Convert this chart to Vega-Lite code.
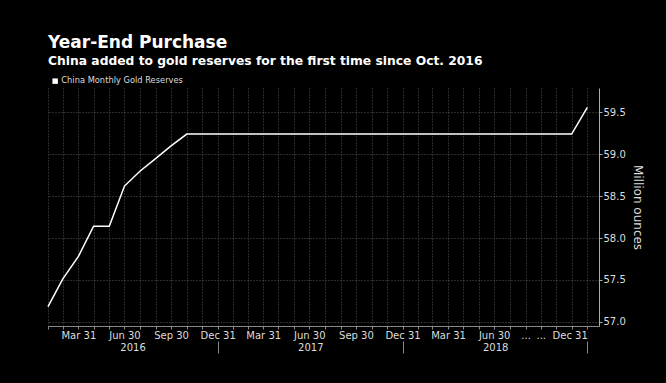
{
  "$schema": "https://vega.github.io/schema/vega-lite/v6.json",
  "width": 551,
  "height": 238,
  "autosize": {"type": "none"},
  "padding": {"left": 48, "top": 88, "right": 67, "bottom": 57},
  "background": "#000000",
  "config": {
    "font": "DejaVu Sans",
    "view": {"stroke": null},
    "title": {"color": "#ffffff", "subtitleColor": "#ffffff", "fontSize": 17, "fontWeight": "bold", "subtitleFontSize": 12.3, "subtitleFontWeight": "bold", "subtitlePadding": 3, "anchor": "start", "frame": "group"}
  },
  "title": {"text": "Year-End Purchase", "subtitle": "China added to gold reserves for the first time since Oct. 2016", "offset": 9},
  "data": {"values": [
    {"date": "2016-01-31", "value": 57.18},
    {"date": "2016-02-29", "value": 57.51},
    {"date": "2016-03-31", "value": 57.78},
    {"date": "2016-04-30", "value": 58.14},
    {"date": "2016-05-31", "value": 58.14},
    {"date": "2016-06-30", "value": 58.62},
    {"date": "2016-07-31", "value": 58.80},
    {"date": "2016-08-31", "value": 58.95},
    {"date": "2016-09-30", "value": 59.10},
    {"date": "2016-10-31", "value": 59.24},
    {"date": "2016-11-30", "value": 59.24},
    {"date": "2016-12-31", "value": 59.24},
    {"date": "2017-01-31", "value": 59.24},
    {"date": "2017-02-28", "value": 59.24},
    {"date": "2017-03-31", "value": 59.24},
    {"date": "2017-04-30", "value": 59.24},
    {"date": "2017-05-31", "value": 59.24},
    {"date": "2017-06-30", "value": 59.24},
    {"date": "2017-07-31", "value": 59.24},
    {"date": "2017-08-31", "value": 59.24},
    {"date": "2017-09-30", "value": 59.24},
    {"date": "2017-10-31", "value": 59.24},
    {"date": "2017-11-30", "value": 59.24},
    {"date": "2017-12-31", "value": 59.24},
    {"date": "2018-01-31", "value": 59.24},
    {"date": "2018-02-28", "value": 59.24},
    {"date": "2018-03-31", "value": 59.24},
    {"date": "2018-04-30", "value": 59.24},
    {"date": "2018-05-31", "value": 59.24},
    {"date": "2018-06-30", "value": 59.24},
    {"date": "2018-07-31", "value": 59.24},
    {"date": "2018-08-31", "value": 59.24},
    {"date": "2018-09-30", "value": 59.24},
    {"date": "2018-10-31", "value": 59.24},
    {"date": "2018-11-30", "value": 59.24},
    {"date": "2018-12-31", "value": 59.56}
  ]},
  "layer": [
    {
      "mark": {"type": "line", "strokeWidth": 1.5},
      "encoding": {
        "x": {
          "field": "date", "type": "temporal",
          "scale": {"type": "utc", "domain": [{"year": 2016, "month": 1, "date": 31, "utc": true}, {"year": 2019, "month": 1, "date": 23, "utc": true}]},
          "axis": {
            "title": null,
            "values": [
              {"year": 2016, "month": 1, "date": 31, "utc": true}, {"year": 2016, "month": 2, "date": 29, "utc": true}, {"year": 2016, "month": 3, "date": 31, "utc": true}, {"year": 2016, "month": 4, "date": 30, "utc": true}, {"year": 2016, "month": 5, "date": 31, "utc": true}, {"year": 2016, "month": 6, "date": 30, "utc": true}, {"year": 2016, "month": 7, "date": 31, "utc": true}, {"year": 2016, "month": 8, "date": 31, "utc": true}, {"year": 2016, "month": 9, "date": 30, "utc": true}, {"year": 2016, "month": 10, "date": 31, "utc": true}, {"year": 2016, "month": 11, "date": 30, "utc": true}, {"year": 2016, "month": 12, "date": 31, "utc": true},
              {"year": 2017, "month": 1, "date": 31, "utc": true}, {"year": 2017, "month": 2, "date": 28, "utc": true}, {"year": 2017, "month": 3, "date": 31, "utc": true}, {"year": 2017, "month": 4, "date": 30, "utc": true}, {"year": 2017, "month": 5, "date": 31, "utc": true}, {"year": 2017, "month": 6, "date": 30, "utc": true}, {"year": 2017, "month": 7, "date": 31, "utc": true}, {"year": 2017, "month": 8, "date": 31, "utc": true}, {"year": 2017, "month": 9, "date": 30, "utc": true}, {"year": 2017, "month": 10, "date": 31, "utc": true}, {"year": 2017, "month": 11, "date": 30, "utc": true}, {"year": 2017, "month": 12, "date": 31, "utc": true},
              {"year": 2018, "month": 1, "date": 31, "utc": true}, {"year": 2018, "month": 2, "date": 28, "utc": true}, {"year": 2018, "month": 3, "date": 31, "utc": true}, {"year": 2018, "month": 4, "date": 30, "utc": true}, {"year": 2018, "month": 5, "date": 31, "utc": true}, {"year": 2018, "month": 6, "date": 30, "utc": true}, {"year": 2018, "month": 7, "date": 31, "utc": true}, {"year": 2018, "month": 8, "date": 31, "utc": true}, {"year": 2018, "month": 9, "date": 30, "utc": true}, {"year": 2018, "month": 10, "date": 31, "utc": true}, {"year": 2018, "month": 11, "date": 30, "utc": true}, {"year": 2018, "month": 12, "date": 31, "utc": true}
            ],
            "labelExpr": "(utcyear(datum.value) == 2018 && (utcmonth(datum.value) == 7 || utcmonth(datum.value) == 8)) ? '...' : (utcmonth(datum.value) % 3 == 2 ? utcFormat(datum.value, '%b %d') : '')",
            "labelAlign": {"condition": {"test": "utcyear(datum.value) == 2018 && utcmonth(datum.value) == 11", "value": "right"}, "value": "center"},
            "labelOverlap": false,
            "labelFlush": false,
            "labelColor": "#dddddd",
            "labelFontSize": 10,
            "labelPadding": 1,
            "tickSize": 3,
            "tickColor": "#888888",
            "domainColor": "#888888",
            "grid": true,
            "gridColor": "#555555",
            "gridDash": [1, 2]
          }
        },
        "y": {
          "field": "value", "type": "quantitative",
          "scale": {"domain": [56.95, 59.79], "nice": false, "zero": false},
          "axis": {
            "orient": "right",
            "values": [57, 57.5, 58, 58.5, 59, 59.5],
            "format": ".1f",
            "title": "Million ounces",
            "titleAngle": 90,
            "titleColor": "#dddddd",
            "titleFontSize": 12,
            "titleFontWeight": "normal",
            "titlePadding": 5,
            "labelColor": "#dddddd",
            "labelFontSize": 10,
            "labelPadding": 1,
            "tickSize": 3,
            "tickColor": "#aaaaaa",
            "domainColor": "#aaaaaa",
            "grid": true,
            "gridColor": "#555555",
            "gridDash": [1, 2]
          }
        },
        "color": {
          "datum": "China Monthly Gold Reserves",
          "type": "nominal",
          "scale": {"range": ["#ffffff"]},
          "legend": {
            "orient": "none", "legendX": 3, "legendY": -11, "direction": "horizontal",
            "title": null, "padding": 0,
            "symbolType": "square", "symbolSize": 30, "symbolFillColor": "#ffffff", "symbolStrokeColor": "#ffffff", "symbolStrokeWidth": 0,
            "labelColor": "#dddddd", "labelFontSize": 8.3, "labelOffset": 2
          }
        }
      }
    },
    {
      "mark": {"type": "rule", "strokeOpacity": 0},
      "encoding": {
        "x": {
          "field": "date", "type": "temporal",
          "axis": {
            "orient": "bottom",
            "offset": 15,
            "title": null,
            "values": [
              {"year": 2016, "month": 7, "date": 16, "utc": true}, {"year": 2017, "month": 7, "date": 2, "utc": true}, {"year": 2018, "month": 7, "date": 2, "utc": true},
              {"year": 2016, "month": 12, "date": 31, "utc": true}, {"year": 2017, "month": 12, "date": 31, "utc": true}, {"year": 2018, "month": 12, "date": 31, "utc": true}
            ],
            "labelExpr": "utcmonth(datum.value) == 11 ? '' : utcFormat(datum.value, '%Y')",
            "tickOpacity": {"condition": {"test": "utcmonth(datum.value) == 11", "value": 1}, "value": 0},
            "tickSize": 12,
            "tickColor": "#888888",
            "labelPadding": -11,
            "labelColor": "#dddddd",
            "labelFontSize": 10,
            "labelOverlap": false,
            "labelFlush": false,
            "domain": false,
            "grid": false
          }
        }
      }
    }
  ],
  "resolve": {"axis": {"x": "independent"}}
}
